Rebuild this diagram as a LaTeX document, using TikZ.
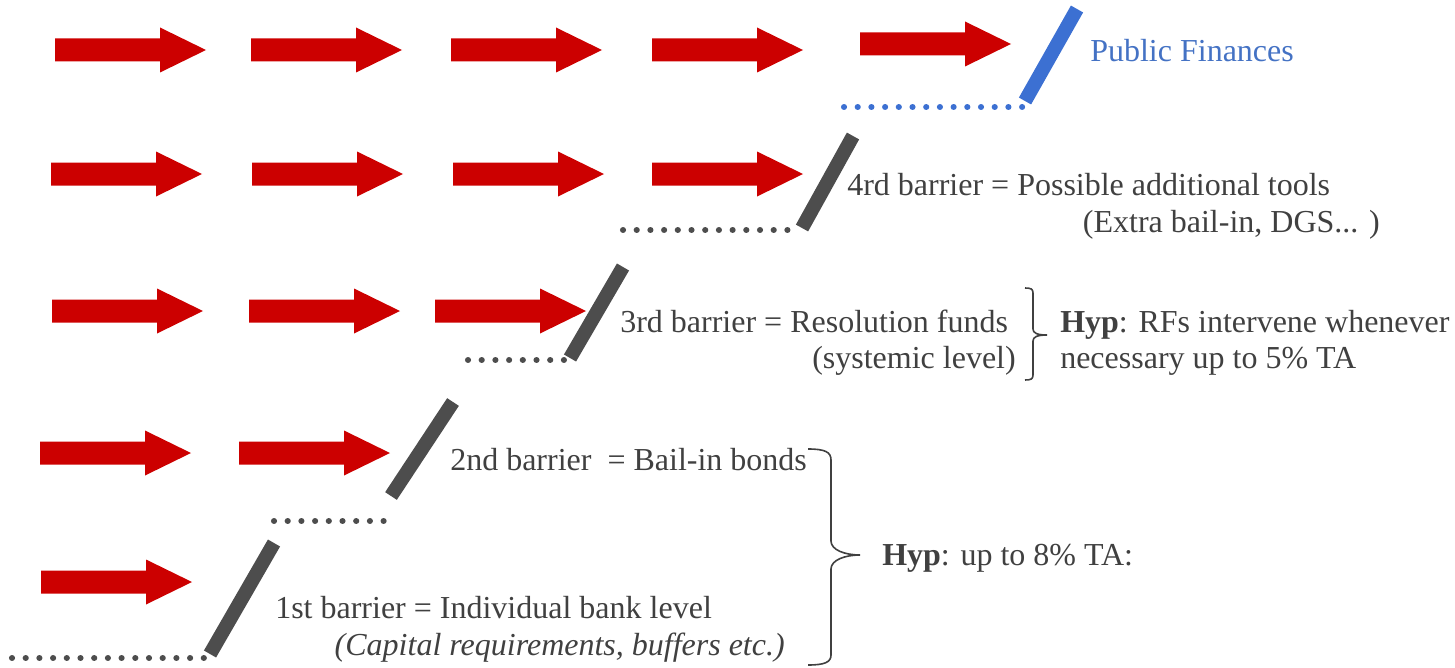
\documentclass[tikz,border=0pt]{standalone}
\usepackage{fontspec}
\setmainfont{Liberation Serif}
\definecolor{arrowred}{HTML}{CC0000}
\definecolor{bargray}{HTML}{4D4D4D}
\definecolor{txtgray}{HTML}{404040}
\definecolor{pfblue}{HTML}{4472C4}
\definecolor{barblue}{HTML}{3C70D2}
\begin{document}
\begin{tikzpicture}[x=0.75pt,y=-0.75pt,
  redarrow/.pic={\fill[arrowred] (0,-11.5) -- (105,-11.5) -- (105,-22.5) -- (151,0) -- (105,22.5) -- (105,11.5) -- (0,11.5) -- cycle;},
  barrier/.style={line width=10.5pt, draw=bargray},
  dots/.style={line width=4.6pt, line cap=round, dash pattern=on 0.01pt off 10.265pt, draw=bargray},
  lbl/.style={font=\fontsize{24}{27}\selectfont, text=txtgray, inner sep=0pt},
  bracket/.style={draw=txtgray, line width=1.2pt}
]
\useasboundingbox (0,0) rectangle (1455,667);

% red arrows
\foreach \x/\y in {55/50,251/50,451/50,652/50,860/44,
                   51/174,252/174,453/174,652/174,
                   52/311,249/311,435/311,
                   40/453,239/453,
                   41/582}
  \pic at (\x,\y) {redarrow};

% barrier end points
\coordinate (b1s) at (210,654); \coordinate (b1e) at (274,543);
\coordinate (b2s) at (391,496); \coordinate (b2e) at (453,402);
\coordinate (b3s) at (570,358); \coordinate (b3e) at (623,267);
\coordinate (b4s) at (802,228); \coordinate (b4e) at (853,136);
\coordinate (b5s) at (1025,101); \coordinate (b5e) at (1077,9);

% dotted floors
\coordinate (d1s) at (12,658);  \coordinate (d1e) at (204.3,658);
\coordinate (d2s) at (274,521); \coordinate (d2e) at (384.1,521);
\coordinate (d3s) at (468,360); \coordinate (d3e) at (564.4,360);
\coordinate (d4s) at (623,230); \coordinate (d4e) at (787.9,230);
\coordinate (d5s) at (844,107); \coordinate (d5e) at (1022.6,107);

\draw[dots] (d1s) -- (d1e);
\draw[dots] (d2s) -- (d2e);
\draw[dots] (d3s) -- (d3e);
\draw[dots] (d4s) -- (d4e);
\draw[dots, draw=barblue] (d5s) -- (d5e);

\draw[barrier] (b1s) -- (b1e);
\draw[barrier] (b2s) -- (b2e);
\draw[barrier] (b3s) -- (b3e);
\draw[barrier] (b4s) -- (b4e);
\draw[barrier, draw=barblue] (b5s) -- (b5e);

% texts
\node[lbl, text=pfblue, anchor=base west] (pf) at (1090,62) {Public Finances};
\node[lbl, anchor=base west] (t4) at (847,195) {4rd barrier = Possible additional tools};
\node[lbl, anchor=base east] (t4x) at (1380,232) {(Extra bail-in, DGS... )};
\node[lbl, anchor=base west] (t3) at (620,332) {3rd barrier = Resolution funds};
\node[lbl, anchor=base east] (t3x) at (1016,368) {(systemic level)};
\node[lbl, anchor=base west] (h1a) at (1060,332) {\textbf{Hyp}: RFs intervene whenever};
\node[lbl, anchor=base west] (h1b) at (1060,368) {necessary up to 5\% TA};
\node[lbl, anchor=base west] (t2) at (450,470) {2nd barrier\ \ = Bail-in bonds};
\node[lbl, anchor=base west] (h2) at (882,565) {\textbf{Hyp}: up to 8\% TA:};
\node[lbl, anchor=base west] (t1) at (275,618) {1st barrier = Individual bank level};
\node[lbl, anchor=base east] (t1x) at (785,655) {\textit{(Capital requirements, buffers etc.)}};

% brackets
\draw[bracket] (1025,288) .. controls (1031,288) and (1033,289) .. (1033,293)
  -- (1033,329) .. controls (1033,333) and (1037,335) .. (1047,335)
  .. controls (1037,335) and (1033,337) .. (1033,341)
  -- (1033,375) .. controls (1033,379) and (1031,380) .. (1025,380);
\draw[bracket] (808,449) .. controls (825,449) and (831,452) .. (831,460)
  -- (831,541) .. controls (831,550) and (845,555) .. (860,555)
  .. controls (845,555) and (831,560) .. (831,569)
  -- (831,655) .. controls (831,662) and (825,665) .. (808,665);
\end{tikzpicture}
\end{document}
